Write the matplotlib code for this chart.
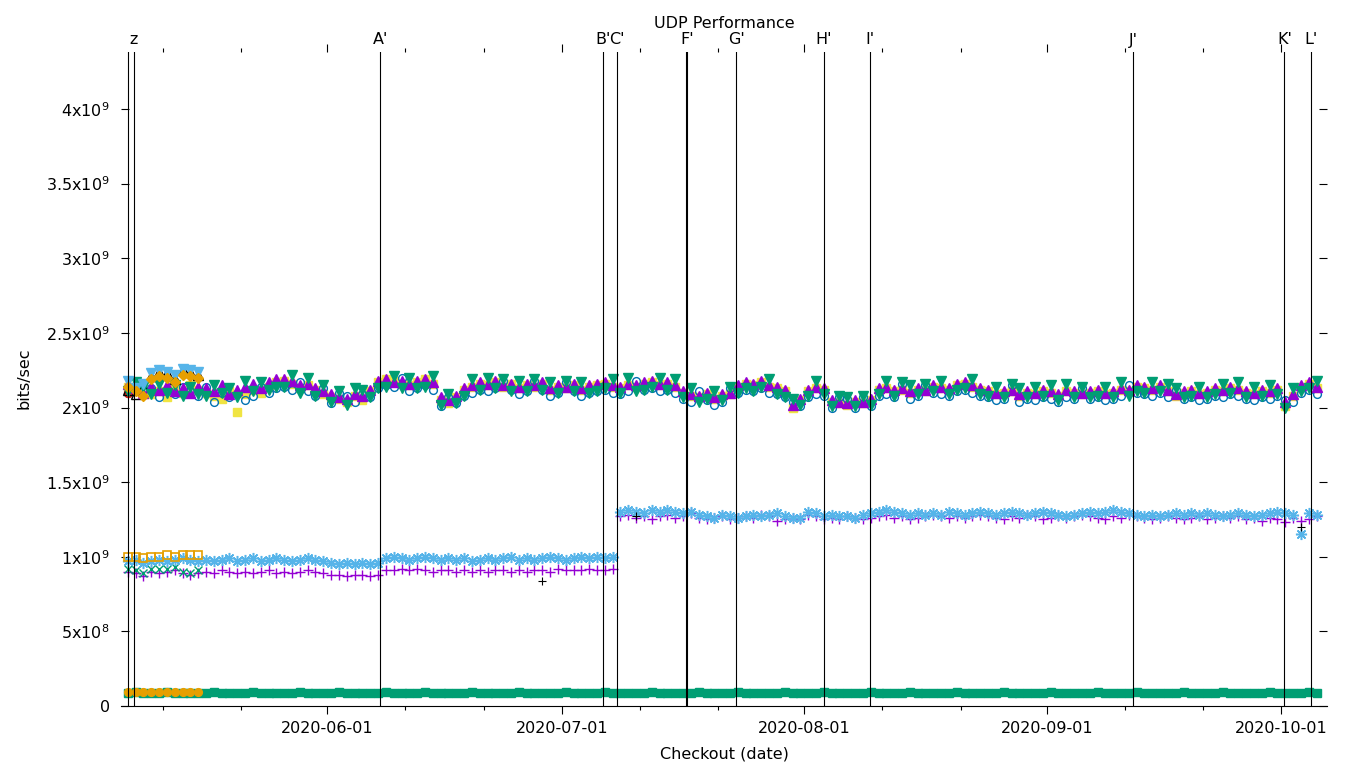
import numpy as np
import pandas as pd
import matplotlib
matplotlib.use("Agg")
import matplotlib.pyplot as plt
import matplotlib.dates as mdates
from matplotlib.transforms import blended_transform_factory

# one checkout per day, 2020-05-06 .. 2020-10-05
dates = pd.date_range("2020-05-06 12:00", "2020-10-05 12:00", freq="D")
early = dates[:10]  # some configs only ran on the first ten checkouts

# ---- ~1e9 band (values in 1e7 bits/sec) ----
s1_purple_plus = [
    90, 89, 87, 90, 89, 90, 91, 89, 88, 89,
    90, 89, 91, 90, 89, 90, 89, 90, 91, 89,
    90, 89, 90, 91, 90, 89,
    88, 88, 87, 88, 88, 87, 88,
    91, 91, 92, 91, 92, 91, 90, 91, 91, 90, 91, 90, 91, 90, 91,
    91, 90, 91, 90, 91, 91, 90, 92, 91, 91, 91, 92, 91, 91, 92,
    127, 128, 126, 127, 125, 127, 128, 126, 127, 129,
    126, 125, 126, 127, 125, 126, 127, 126, 128, 127,
    124, 125, 126, 125, 128, 127, 125, 126, 125, 127,
    126, 125, 126, 127, 128, 126, 127, 125, 126, 127,
    128, 127, 126, 127, 126, 127, 128, 127, 126, 125,
    127, 126, 128, 127, 125, 126, 127, 126, 127, 128,
    127, 126, 125, 127, 126, 128, 127, 126, 125, 126,
    127, 126, 125, 126, 127, 125, 126, 127, 126, 127,
    125, 126, 124, 126, 125, 123, 126, 124, 125, 127,
]
s2_green_x = [92, 91, 89, 92, 92, 92, 93, 90, 89, 91]
s3_blue_star = [
    97, 98, 96, 97, 98, 97, 98, 99, 98, 97,
    98, 97, 98, 99, 97, 98, 99, 97, 98, 99, 98, 97, 98, 99, 98, 97,
    96, 95, 96, 95, 96, 95, 96,
    99, 100, 99, 98, 99, 100, 99, 98, 99, 98, 99, 97, 98, 99, 98,
    99, 100, 98, 99, 98, 99, 100, 99, 98, 99, 100, 99, 100, 99, 100,
    130, 131, 130, 129, 131, 130, 131, 130, 129, 130,
    128, 127, 126, 128, 127, 126, 127, 128, 127, 128,
    129, 127, 126, 126, 130, 129, 127, 128, 127, 127,
    126, 128, 129, 130, 131, 130, 129, 128, 129, 128,
    129, 128, 130, 129, 128, 129, 130, 129, 128, 129,
    130, 129, 128, 129, 130, 129, 128, 127, 128, 129,
    130, 129, 130, 131, 130, 129, 128, 127, 128, 127,
    128, 129, 128, 129, 128, 129, 128, 127, 128, 129,
    128, 127, 128, 129, 130, 129, 128, 115, 129, 128,
]
s4_orange_box = [100, 100, 99, 100, 100, 101, 100, 101, 101, 101]
black_plus_idx = [53, 65, 150]
black_plus_val = [84, 127, 120]

# ---- ~2.1e9 band (values in 1e7 bits/sec) ----
s5_yellow_sq = [
    214, 212, 216, 209, 211, 207, 213, 210, 215, 212,
    210, 208, 206, 211, 197, 209, 212, 210, 214, 217,
    218, 216, 213, 215, 212, 209, 207, 206, 204, 208,
    205, 211, 217, 219, 218, 216, 215, 217, 219, 216,
    205, 203, 207, 212, 214, 216, 215, 217, 214, 216,
    213, 215, 214, 216, 212, 214, 213, 215, 212, 214,
    215, 216, 214, 213, 215, 214, 216, 217, 215, 216,
    214, 210, 208, 207, 209, 206, 208, 209, 214, 216,
    215, 217, 214, 213, 211, 200, 205, 211, 213, 212,
    204, 203, 202, 204, 203, 205, 212, 213, 211, 212,
    210, 212, 211, 214, 213, 212, 215, 216, 214, 212,
    211, 209, 210, 211, 208, 210, 209, 211, 210, 208,
    211, 210, 209, 210, 211, 209, 210, 212, 211, 214,
    213, 212, 214, 211, 208, 210, 211, 209, 210, 212,
    211, 213, 212, 210, 209, 211, 210, 212, 201, 208,
    214, 216, 213,
]
s6_blue_circ = [
    210, 215, 212, 213, 207, 211, 209, 214, 211, 208,
    214, 204, 210, 207, 209, 205, 208, 214, 210, 213,
    214, 212, 217, 211, 208, 213, 203, 210, 208, 204,
    209, 207, 213, 215, 214, 220, 211, 213, 215, 212,
    201, 207, 203, 208, 210, 212, 211, 213, 218, 212,
    209, 211, 218, 212, 208, 210, 217, 211, 208, 210,
    211, 212, 210, 209, 211, 218, 212, 213, 211, 212,
    210, 206, 204, 211, 205, 202, 204, 213, 210, 212,
    211, 213, 210, 209, 207, 204, 201, 207, 209, 208,
    200, 207, 206, 200, 207, 201, 208, 209, 207, 216,
    206, 208, 215, 210, 209, 208, 211, 212, 210, 208,
    207, 205, 206, 215, 204, 206, 205, 207, 206, 204,
    207, 206, 213, 206, 207, 205, 206, 208, 215, 210,
    209, 208, 210, 207, 212, 206, 207, 205, 206, 208,
    207, 209, 208, 206, 205, 207, 206, 208, 205, 204,
    210, 212, 209,
]
s7_red_dot = [210, 211]
s8_black_tri = [212, 209, 214, 221, 224, 223, 219, 225, 224, 222]
s9_purple_tri = [
    216, 213, 210, 214, 212, 215, 211, 213, 210, 214,
    213, 211, 215, 209, 212, 214, 216, 213, 217, 219,
    219, 218, 215, 216, 213, 211, 209, 207, 206, 209,
    208, 212, 218, 219, 217, 218, 216, 218, 219, 217,
    207, 205, 208, 213, 215, 217, 216, 218, 215, 216,
    214, 216, 215, 217, 213, 215, 214, 216, 213, 215,
    216, 217, 215, 214, 216, 215, 217, 218, 216, 217,
    215, 211, 209, 208, 210, 207, 209, 210, 215, 217,
    216, 218, 215, 214, 212, 202, 206, 212, 214, 213,
    205, 204, 203, 205, 204, 206, 213, 214, 212, 213,
    211, 213, 212, 215, 214, 213, 216, 217, 215, 213,
    212, 210, 211, 212, 209, 211, 210, 212, 211, 209,
    212, 211, 210, 211, 212, 210, 211, 213, 212, 215,
    214, 213, 215, 212, 209, 211, 212, 210, 211, 213,
    212, 214, 213, 211, 210, 212, 211, 213, 204, 209,
    215, 217, 214,
]
s10_green_vtri = [
    211, 217, 214, 209, 216, 210, 215, 208, 214, 209,
    208, 215, 210, 213, 207, 218, 211, 217, 212, 214,
    214, 222, 210, 220, 208, 215, 204, 211, 202, 213,
    212, 207, 213, 214, 221, 213, 220, 213, 214, 221,
    202, 209, 203, 208, 219, 212, 220, 213, 219, 211,
    218, 211, 219, 212, 217, 210, 218, 211, 217, 210,
    211, 213, 219, 210, 220, 211, 212, 214, 220, 212,
    219, 207, 213, 204, 206, 211, 205, 214, 210, 213,
    211, 214, 219, 209, 207, 206, 202, 208, 218, 209,
    201, 208, 207, 201, 208, 202, 209, 218, 208, 217,
    215, 209, 216, 211, 218, 209, 212, 213, 219, 209,
    208, 214, 207, 216, 213, 207, 214, 208, 215, 205,
    216, 207, 214, 207, 208, 214, 207, 217, 208, 211,
    210, 217, 211, 216, 213, 207, 208, 214, 207, 209,
    216, 210, 217, 207, 214, 208, 215, 209, 200, 213,
    211, 213, 218,
]
s11_blue_vtri = [218, 213, 216, 223, 225, 224, 222, 226, 225, 224]
s12_orange_dia = [214, 211, 208, 219, 221, 220, 217, 222, 221, 220]

# ---- ~1e8 band (values in 1e6 bits/sec) ----
s18_green_sq = [
    90, 91, 90, 89, 90, 91, 90, 90, 89, 90,
    90, 91, 90, 90, 89, 90, 91, 90, 90, 89,
    90, 90, 91, 90, 89, 90, 90, 91, 90, 90,
    89, 90, 90, 91, 90, 90, 89, 90, 91, 90,
    90, 89, 90, 90, 91, 90, 90, 89, 90, 90,
    91, 90, 90, 90, 89, 90, 91, 90, 90, 89,
    90, 91, 90, 90, 90, 89, 90, 91, 90, 90,
    89, 90, 90, 91, 90, 89, 90, 90, 91, 90,
    90, 89, 90, 90, 91, 90, 89, 90, 90, 91,
    90, 90, 89, 90, 90, 91, 90, 90, 89, 90,
    91, 90, 90, 89, 90, 90, 91, 90, 90, 90,
    89, 90, 91, 90, 90, 89, 90, 90, 91, 90,
    90, 89, 90, 90, 91, 90, 90, 89, 90, 91,
    90, 90, 89, 90, 90, 91, 90, 90, 89, 90,
    91, 90, 90, 90, 89, 90, 91, 90, 90, 89,
    90, 91, 90,
]
s20_orange_dot = [92, 91, 92, 93, 92, 92, 93, 92, 93, 92]

# checkout markers drawn as vertical lines
event_names = ["", "z", "A'", "B'", "C'", "F'", "G'", "H'", "I'", "J'", "K'", "L'"]
event_times = ["2020-05-06 12:45", "2020-05-07 07:00", "2020-06-07 19:00",
               "2020-07-06 07:30", "2020-07-08 02:20", "2020-07-16 23:20",
               "2020-07-23 07:30", "2020-08-03 11:45", "2020-08-09 10:00",
               "2020-09-12 02:00", "2020-10-01 09:20", "2020-10-04 20:10"]

ytick_vals = [0, 5e8, 1e9, 1.5e9, 2e9, 2.5e9, 3e9, 3.5e9, 4e9]
ytick_labels = ["0", "5x10$^{8}$", "1x10$^{9}$", "1.5x10$^{9}$", "2x10$^{9}$",
                "2.5x10$^{9}$", "3x10$^{9}$", "3.5x10$^{9}$", "4x10$^{9}$"]

# gnuplot default palette
PURPLE, GREEN, LBLUE, ORANGE = "#9400d3", "#009e73", "#56b4e9", "#e69f00"
YELLOW, BLUE, RED, BLACK = "#f0e442", "#0072b2", "#e51e10", "#000000"

plt.rcParams["font.family"] = "DejaVu Sans"
plt.rcParams["font.size"] = 11.5

fig = plt.figure(figsize=(13.6, 7.68), dpi=100)
ax = fig.add_axes([121 / 1360, 62 / 768, 1206 / 1360, 654.3 / 768])

E7 = 1e7
E6 = 1e6


def pts(x, y, scale, marker, color, ms, filled=True, mew=1.0):
    ax.plot(x, np.array(y, dtype=float) * scale, linestyle="none", marker=marker,
            color=color, markersize=ms, markeredgewidth=mew,
            fillstyle="full" if filled else "none", zorder=2)


# series in gnuplot order (later ones on top)
pts(dates, s1_purple_plus, E7, "+", PURPLE, 6.5)
pts(early, s2_green_x, E7, "x", GREEN, 5.5)
pts(dates, s3_blue_star, E7, (8, 2, 0), LBLUE, 8, mew=1.1)
pts(early, s4_orange_box, E7, "s", ORANGE, 6, filled=False, mew=1.2)
pts(dates, s5_yellow_sq, E7, "s", YELLOW, 6.2)
pts(dates, s6_blue_circ, E7, "o", BLUE, 5.6, filled=False)
pts(early[:2], s7_red_dot, E7, "o", RED, 5.8)
pts(early, s8_black_tri, E7, "^", BLACK, 7, filled=False)
pts(dates, s9_purple_tri, E7, "^", PURPLE, 7)
pts(dates, s10_green_vtri, E7, "v", GREEN, 6.5)
pts(early, s11_blue_vtri, E7, "v", LBLUE, 7)
pts(early, s12_orange_dia, E7, "D", ORANGE, 5.6)
pts(dates[black_plus_idx], black_plus_val, E7, "+", BLACK, 5.5, mew=0.8)
pts(dates, s18_green_sq, E6, "s", GREEN, 5.6)
pts(early, s20_orange_dot, E6, "o", ORANGE, 5.6)

# vertical checkout lines with labels above the plot
lab_tr = blended_transform_factory(ax.transData, fig.transFigure)
for name, t in zip(event_names, event_times):
    tt = pd.Timestamp(t)
    ax.axvline(tt, color="black", lw=1.5 if name == "F'" else 0.8, zorder=5)
    if name:
        ax.text(tt, 1 - 40 / 768, name, transform=lab_tr, ha="center",
                va="center", fontsize=11.5)

ax.set_xlim(pd.Timestamp("2020-05-05 15:08"), pd.Timestamp("2020-10-06 20:10"))
ax.set_ylim(0, 4.384e9)

ax.xaxis.set_major_locator(mdates.MonthLocator(bymonthday=1))
ax.xaxis.set_minor_locator(mdates.DayLocator(bymonthday=[11, 21]))
ax.xaxis.set_major_formatter(mdates.DateFormatter("%Y-%m-%d"))
ax.set_yticks(ytick_vals)
ax.set_yticklabels(ytick_labels)

for side in ["top", "left", "right"]:
    ax.spines[side].set_visible(False)
ax.spines["bottom"].set_linewidth(0.8)

ax.tick_params(axis="x", which="major", direction="out", length=5.8, width=0.8,
               top=True, bottom=True, pad=5)
ax.tick_params(axis="x", which="minor", direction="out", length=2.9, width=0.8,
               top=True, bottom=True)
ax.tick_params(axis="y", which="major", direction="in", length=5.5, width=0.8,
               left=True, right=True, pad=8)

fig.text(724 / 1360, 1 - 24 / 768, "UDP Performance", ha="center", va="center")
fig.text(724 / 1360, 1 - 754 / 768, "Checkout (date)", ha="center", va="center")
fig.text(24 / 1360, 1 - 378 / 768, "bits/sec", ha="center", va="center",
         rotation=90)

fig.savefig("out.png", dpi=100)
